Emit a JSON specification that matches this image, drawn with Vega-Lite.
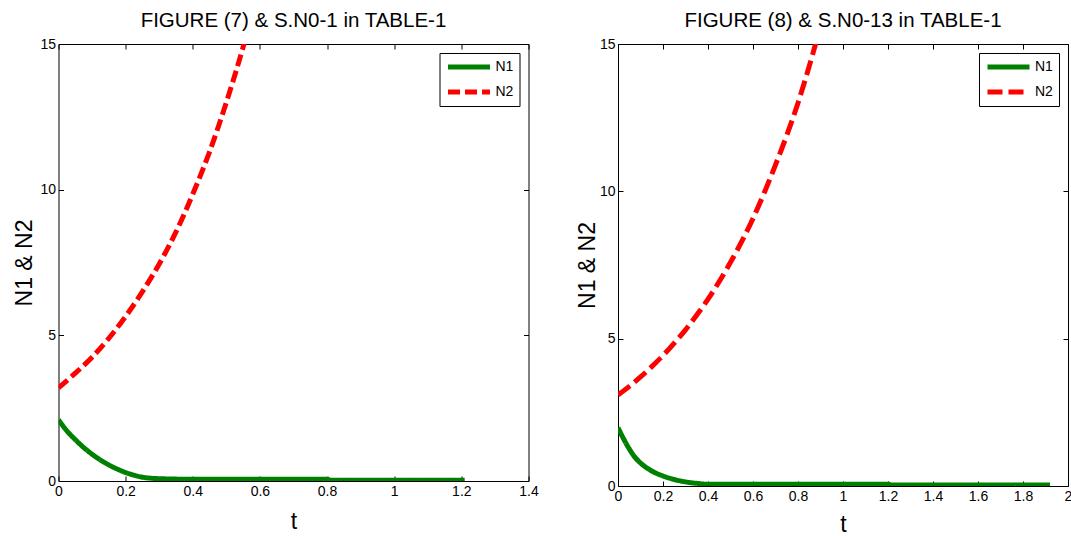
{
  "$schema": "https://vega.github.io/schema/vega-lite/v6.json",
  "autosize": {"type": "pad"},
  "padding": {"left": 12.5, "top": 10, "right": 0, "bottom": 0},
  "background": "white",
  "spacing": 89.5,
  "bounds": "flush",
  "config": {
    "font": "Liberation Sans",
    "view": {"stroke": "black", "strokeWidth": 1},
    "axis": {"domain": false, "grid": false, "tickSize": -5, "tickColor": "black", "tickWidth": 1, "labelColor": "black", "labelFontSize": 14, "labelPadding": 8, "labelFlush": false, "labelOverlap": false, "titleFontSize": 23, "titleFontWeight": "normal", "titleColor": "black", "titleBaseline": "alphabetic"},
    "title": {"fontSize": 20.5, "fontWeight": "normal", "color": "black", "offset": 6, "anchor": "middle"},
    "legend": {"orient": "top-right", "offset": 9, "strokeColor": "black", "fillColor": "white", "padding": 6, "symbolType": "stroke", "symbolSize": 1764, "symbolStrokeWidth": 5, "labelFontSize": 14, "labelColor": "black", "labelOffset": 3, "clipHeight": 16, "rowPadding": 9, "cornerRadius": 0}
  },
  "resolve": {
    "scale": {"x": "independent", "y": "independent", "color": "independent", "strokeDash": "independent"},
    "legend": {"color": "independent", "strokeDash": "independent"},
    "axis": {"x": "independent", "y": "independent"}
  },
  "hconcat": [
    {
      "width": 470,
      "height": 437,
      "title": {"text": "FIGURE (7) & S.N0-1 in TABLE-1"},
      "data": {"values": [
        {"t": 0, "value": 2.1, "series": "N1"},
        {"t": 0.025, "value": 1.72, "series": "N1"},
        {"t": 0.05, "value": 1.42, "series": "N1"},
        {"t": 0.075, "value": 1.15, "series": "N1"},
        {"t": 0.1, "value": 0.92, "series": "N1"},
        {"t": 0.125, "value": 0.72, "series": "N1"},
        {"t": 0.15, "value": 0.55, "series": "N1"},
        {"t": 0.175, "value": 0.41, "series": "N1"},
        {"t": 0.2, "value": 0.29, "series": "N1"},
        {"t": 0.225, "value": 0.2, "series": "N1"},
        {"t": 0.25, "value": 0.13, "series": "N1"},
        {"t": 0.3, "value": 0.08, "series": "N1"},
        {"t": 0.4, "value": 0.06, "series": "N1"},
        {"t": 0.6, "value": 0.06, "series": "N1"},
        {"t": 0.8, "value": 0.06, "series": "N1"},
        {"t": 0.81, "value": 0.03, "series": "N1"},
        {"t": 1.0, "value": 0.03, "series": "N1"},
        {"t": 1.21, "value": 0.03, "series": "N1"},
        {"t": 0, "value": 3.2, "series": "N2"},
        {"t": 0.05, "value": 3.7, "series": "N2"},
        {"t": 0.1, "value": 4.25, "series": "N2"},
        {"t": 0.15, "value": 4.9, "series": "N2"},
        {"t": 0.2, "value": 5.65, "series": "N2"},
        {"t": 0.25, "value": 6.5, "series": "N2"},
        {"t": 0.3, "value": 7.45, "series": "N2"},
        {"t": 0.35, "value": 8.55, "series": "N2"},
        {"t": 0.4, "value": 9.85, "series": "N2"},
        {"t": 0.45, "value": 11.3, "series": "N2"},
        {"t": 0.5, "value": 13.0, "series": "N2"},
        {"t": 0.55, "value": 14.9, "series": "N2"},
        {"t": 0.6, "value": 17.1, "series": "N2"}
      ]},
      "layer": [
        {
          "mark": {"type": "line", "strokeWidth": 5, "clip": true, "interpolate": "monotone"},
          "encoding": {
            "x": {"field": "t", "type": "quantitative", "scale": {"domain": [0, 1.4], "nice": false, "zero": false}, "axis": {"orient": "bottom", "values": [0, 0.2, 0.4, 0.6, 0.8, 1, 1.2, 1.4], "format": "~g", "title": "t", "titleY": 47}},
            "y": {"field": "value", "type": "quantitative", "scale": {"domain": [0, 15], "nice": false}, "axis": {"orient": "left", "values": [0, 5, 10, 15], "format": "~g", "title": "N1 & N2", "titleX": -27}},
            "color": {"field": "series", "type": "nominal", "title": null, "scale": {"domain": ["N1", "N2"], "range": ["#008000", "#ff0000"]}},
            "strokeDash": {"field": "series", "type": "nominal", "title": null, "scale": {"domain": ["N1", "N2"], "range": [[1, 0], [12, 5]]}}
          }
        },
        {
          "mark": {"type": "point", "opacity": 0, "clip": true},
          "encoding": {
            "x": {"field": "t", "type": "quantitative", "axis": {"orient": "top", "labels": false, "title": null, "values": [0, 0.2, 0.4, 0.6, 0.8, 1, 1.2, 1.4]}},
            "y": {"field": "value", "type": "quantitative", "axis": {"orient": "right", "labels": false, "title": null, "values": [0, 5, 10, 15]}}
          }
        }
      ],
      "resolve": {"axis": {"x": "independent", "y": "independent"}}
    },
    {
      "width": 450,
      "height": 442,
      "title": {"text": "FIGURE (8) & S.N0-13 in TABLE-1"},
      "data": {"values": [
        {"t": 0, "value": 1.98, "series": "N1"},
        {"t": 0.025, "value": 1.6, "series": "N1"},
        {"t": 0.05, "value": 1.26, "series": "N1"},
        {"t": 0.075, "value": 0.98, "series": "N1"},
        {"t": 0.1, "value": 0.78, "series": "N1"},
        {"t": 0.125, "value": 0.63, "series": "N1"},
        {"t": 0.15, "value": 0.51, "series": "N1"},
        {"t": 0.2, "value": 0.34, "series": "N1"},
        {"t": 0.25, "value": 0.22, "series": "N1"},
        {"t": 0.3, "value": 0.14, "series": "N1"},
        {"t": 0.35, "value": 0.09, "series": "N1"},
        {"t": 0.4, "value": 0.06, "series": "N1"},
        {"t": 0.8, "value": 0.06, "series": "N1"},
        {"t": 1.2, "value": 0.06, "series": "N1"},
        {"t": 1.22, "value": 0.03, "series": "N1"},
        {"t": 1.6, "value": 0.03, "series": "N1"},
        {"t": 1.92, "value": 0.03, "series": "N1"},
        {"t": 0, "value": 3.09, "series": "N2"},
        {"t": 0.05, "value": 3.38, "series": "N2"},
        {"t": 0.1, "value": 3.7, "series": "N2"},
        {"t": 0.15, "value": 4.05, "series": "N2"},
        {"t": 0.2, "value": 4.43, "series": "N2"},
        {"t": 0.25, "value": 4.85, "series": "N2"},
        {"t": 0.3, "value": 5.3, "series": "N2"},
        {"t": 0.35, "value": 5.8, "series": "N2"},
        {"t": 0.4, "value": 6.34, "series": "N2"},
        {"t": 0.45, "value": 6.94, "series": "N2"},
        {"t": 0.5, "value": 7.59, "series": "N2"},
        {"t": 0.55, "value": 8.3, "series": "N2"},
        {"t": 0.6, "value": 9.08, "series": "N2"},
        {"t": 0.65, "value": 9.95, "series": "N2"},
        {"t": 0.7, "value": 10.9, "series": "N2"},
        {"t": 0.75, "value": 11.9, "series": "N2"},
        {"t": 0.8, "value": 13.0, "series": "N2"},
        {"t": 0.85, "value": 14.25, "series": "N2"},
        {"t": 0.9, "value": 15.6, "series": "N2"}
      ]},
      "layer": [
        {
          "mark": {"type": "line", "strokeWidth": 5, "clip": true, "interpolate": "monotone"},
          "encoding": {
            "x": {"field": "t", "type": "quantitative", "scale": {"domain": [0, 2], "nice": false, "zero": false}, "axis": {"orient": "bottom", "values": [0, 0.2, 0.4, 0.6, 0.8, 1, 1.2, 1.4, 1.6, 1.8, 2], "format": "~g", "title": "t", "titleY": 45}},
            "y": {"field": "value", "type": "quantitative", "scale": {"domain": [0, 15], "nice": false}, "axis": {"orient": "left", "values": [0, 5, 10, 15], "format": "~g", "title": "N1 & N2", "titleX": -24}},
            "color": {"field": "series", "type": "nominal", "title": null, "scale": {"domain": ["N1", "N2"], "range": ["#008000", "#ff0000"]}},
            "strokeDash": {"field": "series", "type": "nominal", "title": null, "scale": {"domain": ["N1", "N2"], "range": [[1, 0], [15, 6]]}}
          }
        },
        {
          "mark": {"type": "point", "opacity": 0, "clip": true},
          "encoding": {
            "x": {"field": "t", "type": "quantitative", "axis": {"orient": "top", "labels": false, "title": null, "values": [0, 0.2, 0.4, 0.6, 0.8, 1, 1.2, 1.4, 1.6, 1.8, 2]}},
            "y": {"field": "value", "type": "quantitative", "axis": {"orient": "right", "labels": false, "title": null, "values": [0, 5, 10, 15]}}
          }
        }
      ],
      "resolve": {"axis": {"x": "independent", "y": "independent"}}
    }
  ]
}
